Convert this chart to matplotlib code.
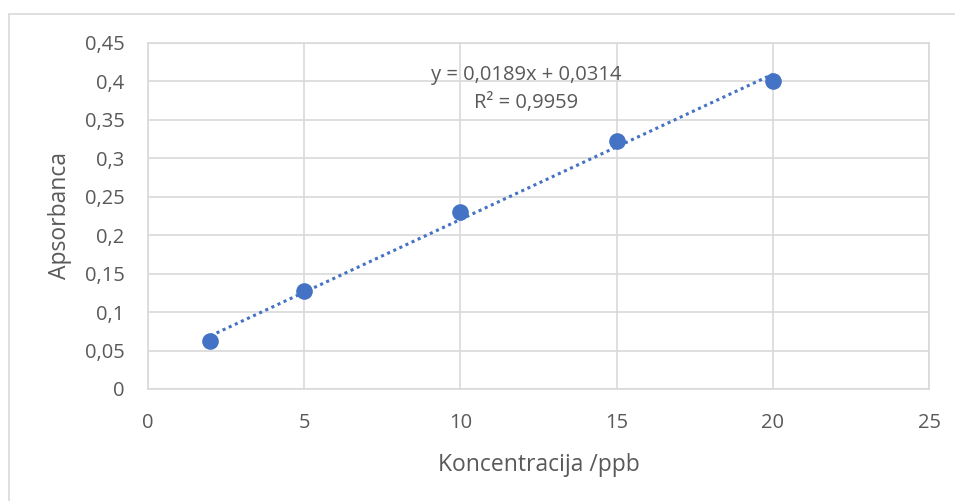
import matplotlib
matplotlib.use("Agg")
import matplotlib.pyplot as plt
import numpy as np
from matplotlib.patches import Rectangle

conc = [2, 5, 10, 15, 20]
absorb = [0.062, 0.127, 0.230, 0.323, 0.400]
slope = 0.0189
intercept = 0.0314
eq_text = "y = 0,0189x + 0,0314"
r2_text = "R² = 0,9959"
xticks = [0, 5, 10, 15, 20, 25]
yticks = [0, 0.05, 0.1, 0.15, 0.2, 0.25, 0.3, 0.35, 0.4, 0.45]

plt.rcParams['font.family'] = ['Open Sans', 'DejaVu Sans']
txt = '#595959'
grid = '#d9d9d9'
blue = '#4472C4'

fig = plt.figure(figsize=(9.55, 5.01), dpi=100)
fig.patches.append(Rectangle((9/955, -0.1), 2, 1 - 14/501 + 0.1, transform=fig.transFigure,
                             fill=False, edgecolor=grid, linewidth=1.2))
ax = fig.add_axes([148/955, 1 - 389/501, (929 - 148)/955, (389 - 43)/501])
ax.set_xlim(0, 25)
ax.set_ylim(0, 0.45)
ax.set_xticks(xticks)
ax.set_yticks(yticks)
ax.set_xticklabels([str(v) for v in xticks])
ax.set_yticklabels(['0' if v == 0 else f"{v:g}".replace('.', ',') for v in yticks])
ax.grid(True, color=grid, linewidth=1.2)
ax.set_axisbelow(True)
for s in ax.spines.values():
    s.set_color(grid)
    s.set_linewidth(1.2)
ax.tick_params(length=0, labelsize=14.5, colors=txt)
ax.tick_params(axis='x', pad=17)
ax.tick_params(axis='y', pad=17)

xs = np.array([conc[0], conc[-1]])
ax.plot(xs, slope * xs + intercept, linestyle=(0, (1, 1.2)), color=blue, linewidth=2.2, zorder=2)
ax.scatter(conc, absorb, s=120, color=blue, zorder=3, edgecolors=blue)

ax.text(12.1, 0.408, eq_text, ha='center', va='center', fontsize=14.5, color=txt)
ax.text(12.1, 0.372, r2_text, ha='center', va='center', fontsize=14.5, color=txt)

ax.set_xlabel("Koncentracija /ppb", fontsize=16.5, color=txt, labelpad=15)
ax.set_ylabel("Apsorbanca", fontsize=16.5, color=txt, labelpad=9)

fig.savefig("out.png", dpi=100)
